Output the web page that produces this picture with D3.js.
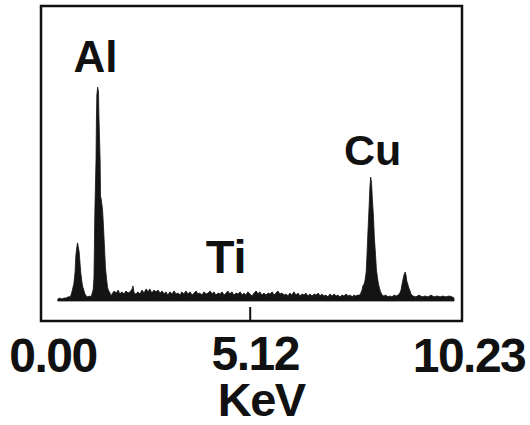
<!DOCTYPE html>
<html>
<head>
<meta charset="utf-8">
<script src="https://cdn.jsdelivr.net/npm/d3@7"></script>
<style>
  html, body { margin: 0; padding: 0; background: #fff; }
  svg { display: block; }
  text { font-family: "Liberation Sans", Arial, Helvetica, sans-serif; font-weight: bold; fill: #111; }
</style>
</head>
<body>
<svg id="chart" width="530" height="425"></svg>
<script>
// EDS spectrum: energy (keV) and counts per channel
const energy = [
  0.41,0.46,0.51,0.56,0.61,0.66,0.71,0.73,0.76,0.78,0.80,0.83,0.85,0.88,0.89,0.90,0.93,0.95,0.97,1.00,
  1.02,1.05,1.07,1.10,1.14,1.19,1.22,1.24,1.27,1.29,1.30,1.31,1.34,1.35,1.36,1.38,1.40,1.41,1.44,1.45,
  1.47,1.50,1.52,1.55,1.57,1.60,1.62,1.64,1.68,1.70,
  1.73,1.78,1.83,1.88,1.92,1.97,2.02,2.07,2.12,2.17,2.22,2.24,2.27,2.31,2.36,2.41,2.46,2.51,2.56,2.61,
  2.65,2.70,2.75,2.80,2.85,2.90,2.95,3.00,3.04,3.09,3.14,3.19,3.24,3.29,3.34,3.39,3.43,3.48,3.53,3.58,
  3.63,3.68,3.73,3.78,3.82,3.87,3.92,3.97,4.02,4.07,4.12,4.17,4.21,4.26,4.31,4.36,4.41,4.46,4.51,4.55,
  4.60,4.65,4.70,4.75,4.80,4.85,4.90,4.94,4.99,5.04,5.09,5.14,5.19,5.24,5.29,5.33,5.38,5.43,5.48,5.53,
  5.58,5.63,5.68,5.72,5.77,5.82,5.87,5.92,5.97,6.02,6.06,6.11,6.16,6.21,6.26,6.31,6.36,6.41,6.45,6.50,
  6.55,6.60,6.65,6.70,6.75,6.80,6.84,6.89,6.94,6.99,7.04,7.09,7.14,7.19,7.23,7.28,7.33,7.38,7.43,7.48,
  7.53,7.58,7.62,7.67,7.72,
  7.77,7.79,7.82,7.84,7.87,7.89,7.92,7.94,7.96,7.99,8.01,8.03,8.05,8.07,8.10,8.12,8.15,8.17,8.20,8.22,
  8.25,8.27,8.31,8.35,8.40,8.45,8.50,8.55,8.60,8.65,8.70,
  8.74,8.77,8.79,8.82,8.84,8.87,8.89,8.91,8.94,8.96,8.99,9.01,9.06,
  9.13,9.21,9.28,9.35,9.43,9.50,9.57,9.65,9.72,9.79,9.86,9.94,10.01,10.06
];
const counts = [
  7,10,7,10,10,14,14,20,34,47,58,98,156,190,197,190,166,129,95,61,
  47,34,24,17,14,17,14,24,37,78,173,292,478,614,698,725,709,631,478,356,
  342,308,258,173,112,71,47,37,27,17,
  24,34,27,37,24,31,24,34,27,31,41,51,27,24,31,24,37,27,41,31,
  41,27,37,31,37,27,34,24,31,20,31,24,34,24,27,20,31,24,34,24,
  31,20,27,34,24,27,20,31,24,27,34,24,31,20,27,24,31,20,27,34,
  24,31,20,27,24,31,20,27,20,31,24,17,27,34,24,31,20,27,20,27,
  24,31,20,27,34,24,27,20,24,17,27,20,31,20,27,17,24,20,27,17,
  24,17,24,20,27,17,24,17,20,14,24,17,24,17,20,14,20,17,24,17,
  20,14,20,17,20,
  20,27,37,51,58,68,98,156,224,315,383,420,403,349,281,214,153,105,75,58,
  41,31,20,17,20,14,17,14,20,17,20,
  27,37,54,75,88,98,88,68,54,44,34,24,17,
  14,20,14,17,14,20,14,17,14,17,14,17,14,10
];

// Peak labels: element, energy position (keV), label height (counts)
const peakNames  = ["Al", "Ti", "Cu"];
const peakEnergy = [1.33, 4.51, 8.08];
const peakLabelY = [776, 95, 461];

// Axis ticks
const tickValues = [0.00, 5.12, 10.23];
const tickLabels = ["0.00", "5.12", "10.23"];
const axisTitle  = "KeV";

const svg = d3.select("#chart");
const margin = { left: 41, top: 6 };
const plotW = 421, plotH = 315;
const g = svg.append("g").attr("transform", `translate(${margin.left},${margin.top})`);

const x = d3.scaleLinear().domain([0, 10.23]).range([0, 420]);
const y = d3.scaleLinear().domain([0, 1000]).range([295, 0]);

const data = energy.map((e, i) => ({ e, c: counts[i] }));

// filled spectrum
const area = d3.area()
  .x(d => x(d.e))
  .y0(y(0))
  .y1(d => y(d.c));
g.append("path")
  .datum(data)
  .attr("d", area)
  .attr("fill", "#141414")
  .attr("stroke", "#141414")
  .attr("stroke-width", 0.8)
  .attr("stroke-linejoin", "round");

// frame
g.append("rect")
  .attr("x", 0).attr("y", 0)
  .attr("width", plotW).attr("height", plotH)
  .attr("fill", "none")
  .attr("stroke", "#111")
  .attr("stroke-width", 2.5);

// centre tick on the bottom edge
g.append("line")
  .attr("x1", x(5.12) - 1).attr("x2", x(5.12) - 1)
  .attr("y1", plotH - 14).attr("y2", plotH)
  .attr("stroke", "#111").attr("stroke-width", 2);

// tick labels
const tickDx = [12, 4, 8];
const tickDy = [372, 370, 372];
svg.selectAll("text.tick")
  .data(tickValues)
  .join("text")
  .attr("class", "tick")
  .attr("x", (d, i) => margin.left + x(d) + tickDx[i])
  .attr("y", (d, i) => tickDy[i])
  .attr("text-anchor", "middle")
  .attr("font-size", 48)
  .attr("letter-spacing", -1.5)
  .text((d, i) => tickLabels[i]);

// axis title
svg.append("text")
  .attr("x", margin.left + x(5.12) + 10)
  .attr("y", 416)
  .attr("text-anchor", "middle")
  .attr("font-size", 47)
  .attr("letter-spacing", -1.5)
  .text(axisTitle);

// peak labels
const peakSize = [44, 47, 43];
g.selectAll("text.peak")
  .data(peakNames)
  .join("text")
  .attr("class", "peak")
  .attr("x", (d, i) => x(peakEnergy[i]))
  .attr("y", (d, i) => y(peakLabelY[i]))
  .attr("text-anchor", "middle")
  .attr("font-size", (d, i) => peakSize[i])
  .text(d => d);
</script>
</body>
</html>
